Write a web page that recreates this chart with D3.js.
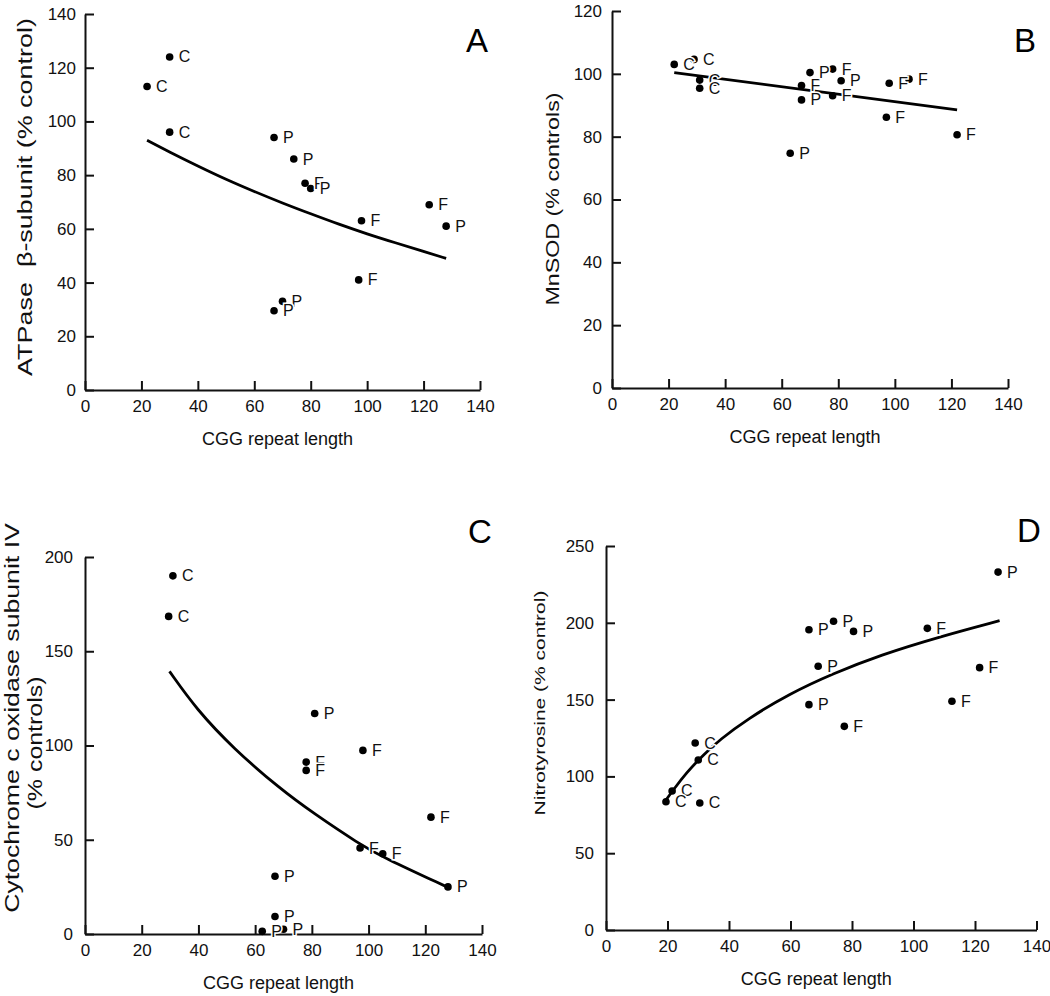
<!DOCTYPE html>
<html><head><meta charset="utf-8">
<script src="https://cdn.jsdelivr.net/npm/d3@7"></script>
<style>
body{margin:0;background:#fff;}
svg{display:block;font-family:"Liberation Sans",Arial,Helvetica,sans-serif;}
</style></head><body>
<svg id="c" width="1050" height="996"></svg>
<script>
// ---------- Data ----------
const xTicks = [0,20,40,60,80,100,120,140];

// Panel A: ATPase beta-subunit
const cggA  = [30, 22, 30, 67, 74, 78, 80, 98, 122, 128, 97, 70, 67];
const atpA  = [124, 113, 96, 94, 86, 77, 75, 63, 69, 61, 41, 33, 29.5];
const grpA  = ["C","C","C","P","P","F","P","F","F","P","F","P","P"];
const fitA  = [[22,93],[30,88.6],[40,83.4],[50,78.4],[60,73.9],[70,69.6],[80,65.6],[90,61.7],[100,58.1],[110,54.8],[120,51.6],[128,49]];
const yTicksA = [0,20,40,60,80,100,120,140];

// Panel B: MnSOD
const cggB  = [22, 29, 31, 31, 67, 67, 70, 78, 81, 78, 98, 105, 97, 122, 63];
const sodB  = [103, 104.6, 98, 95.4, 96.3, 91.7, 100.4, 101.5, 97.8, 93, 97, 98.3, 86.2, 80.6, 74.7];
const grpB  = ["C","C","C","C","F","P","P","F","P","F","F","F","F","F","P"];
const fitB  = [[22,100.4],[122,88.5]];
const yTicksB = [0,20,40,60,80,100,120];

// Panel C: Cytochrome c oxidase subunit IV
const cggC  = [31, 29.5, 81, 98, 78, 78, 122, 97, 105, 128, 67, 67, 62.5, 70];
const coxC  = [190, 168.5, 117, 97.4, 91.2, 86.8, 62, 45.6, 42.6, 25, 30.6, 9.3, 1.4, 2.5];
const grpC  = ["C","C","P","F","F","F","F","F","F","P","P","P","P","P"];
const fitC  = [[29.8,139.3],[39.4,119],[52.3,98.5],[68.8,77],[80.6,64],[97,47.5],[104.7,41],[127.6,25]];
const yTicksC = [0,50,100,150,200];

// Panel D: Nitrotyrosine
const cggD  = [127.5, 66, 74, 80.5, 104.5, 69, 121.5, 66, 112.5, 77.5, 29, 30, 21.5, 19.5, 30.5];
const ntyD  = [233, 195.5, 201, 194.4, 196.4, 171.7, 170.8, 146.7, 148.9, 132.6, 121.7, 110.7, 90.5, 83.5, 82.7];
const grpD  = ["P","P","P","P","F","P","F","P","F","F","C","C","C","C","C"];
const fitD  = [[19.5,84.6],[22,91.5],[26,102],[31.6,114],[37.1,124],[45.7,137],[59.8,154],[73.9,167],[89.1,179],[108.6,191],[128,201.4]];
const yTicksD = [0,50,100,150,200,250];

// ---------- Layout ----------
const panels = [
  {letter:"A", xs:cggA, ys:atpA, gs:grpA, fit:fitA, yDom:[0,140], yT:yTicksA,
   xr:[85,480], yr:[390,14], lx:466, ly:52, pad:9,
   titles:[{t:"ATPase  β-subunit (% control)", cx:25, cy:197, fs:20, len:358}]},
  {letter:"B", xs:cggB, ys:sodB, gs:grpB, fit:fitB, yDom:[0,120], yT:yTicksB,
   xr:[612,1008], yr:[388,11], lx:1014, ly:52, pad:10,
   titles:[{t:"MnSOD (% controls)", cx:552, cy:199, fs:19, len:213}]},
  {letter:"C", xs:cggC, ys:coxC, gs:grpC, fit:fitC, yDom:[0,200], yT:yTicksC,
   xr:[85,482], yr:[934,557], lx:468, ly:543, pad:12,
   titles:[{t:"Cytochrome c oxidase subunit IV", cx:12, cy:718, fs:20, len:390},
           {t:"(% controls)", cx:35, cy:743, fs:20, len:133}]},
  {letter:"D", xs:cggD, ys:ntyD, gs:grpD, fit:fitD, yDom:[0,250], yT:yTicksD,
   xr:[606,1036.5], yr:[930,546], lx:1017, ly:542, pad:12,
   titles:[{t:"Nitrotyrosine (% control)", cx:540, cy:703, fs:15, len:225}]}
];

const svg = d3.select("#c");

panels.forEach(p => {
  const x = d3.scaleLinear().domain([0,140]).range(p.xr);
  const y = d3.scaleLinear().domain(p.yDom).range(p.yr);
  const g = svg.append("g");

  // axes
  const ax = g.append("g").attr("transform",`translate(0,${p.yr[0]})`)
    .call(d3.axisBottom(x).tickValues(xTicks).tickSizeInner(-9).tickSizeOuter(0).tickPadding(10));
  const ay = g.append("g").attr("transform",`translate(${p.xr[0]},0)`)
    .call(d3.axisLeft(y).tickValues(p.yT).tickSizeInner(-9).tickSizeOuter(0).tickPadding(p.pad));
  [ax,ay].forEach(a=>{
    a.select(".domain").attr("stroke","#111").attr("stroke-width",2);
    a.selectAll(".tick line").attr("stroke","#111").attr("stroke-width",2);
    a.selectAll(".tick text").attr("font-size",17).attr("fill","#111")
      .attr("font-family","Liberation Sans, Arial, sans-serif");
  });

  // x title
  g.append("text").attr("x",(p.xr[0]+p.xr[1])/2 - 5).attr("y",p.yr[0]+55)
    .attr("text-anchor","middle").attr("font-size",18).attr("fill","#111")
    .text("CGG repeat length");

  // y titles (stretched along reading direction)
  p.titles.forEach(t=>{
    const tx = g.append("text").attr("text-anchor","middle").attr("dominant-baseline","central")
      .attr("font-size",t.fs).attr("fill","#111").style("white-space","pre").text(t.t);
    const w = tx.node().getComputedTextLength();
    const s = t.len / w;
    tx.attr("transform",`translate(${t.cx},${t.cy}) rotate(-90) scale(${s},1)`);
  });

  // fit curve
  g.append("path").datum(p.fit)
    .attr("d", d3.line().x(d=>x(d[0])).y(d=>y(d[1])).curve(d3.curveBasis))
    .attr("fill","none").attr("stroke","#000").attr("stroke-width",2.8);

  // dots
  const pts = p.xs.map((v,i)=>({x:v,y:p.ys[i],g:p.gs[i]}));
  g.append("g").selectAll("circle").data(pts).join("circle")
    .attr("cx",d=>x(d.x)).attr("cy",d=>y(d.y)).attr("r",3.8).attr("fill","#000");

  // labels with white halo
  g.append("g").selectAll("text").data(pts).join("text")
    .attr("x",d=>x(d.x)+9).attr("y",d=>y(d.y)+5.5)
    .attr("font-size",16).attr("fill","#111")
    .attr("stroke","#fff").attr("stroke-width",3).attr("paint-order","stroke")
    .text(d=>d.g);

  // panel letter
  g.append("text").attr("x",p.lx).attr("y",p.ly).attr("font-size",33).attr("fill","#000")
    .text(p.letter);
});
</script>
</body></html>
